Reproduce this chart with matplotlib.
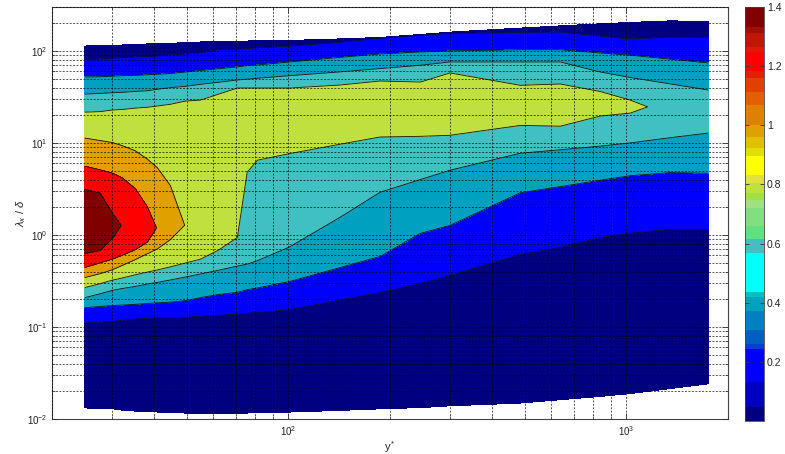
import numpy as np
import matplotlib
matplotlib.use("Agg")
import matplotlib.pyplot as plt
import matplotlib.ticker as mticker
from matplotlib.colors import ListedColormap, BoundaryNorm
from matplotlib.cm import ScalarMappable

plt.rcParams['font.family'] = ['Liberation Sans', 'DejaVu Sans']
plt.rcParams['mathtext.fontset'] = 'custom'
plt.rcParams['mathtext.rm'] = 'Liberation Sans'
plt.rcParams['mathtext.it'] = 'Liberation Sans:italic'
plt.rcParams['mathtext.bf'] = 'Liberation Sans:bold'

nan = np.nan

# wall distance of each measured profile
ystar = [25, 27.8, 30.2, 32.3, 35.3, 38.3, 41.0, 44.8, 49.6, 54.9, 62.1, 70.7,
         75.6, 81.0, 101, 142.5, 187, 246, 301, 486, 638, 838, 1028, 1350, 1748]

# resolved wavelength range of each profile
lam_bottom = [0.0132, 0.0130, 0.0129, 0.0125, 0.0122, 0.0121, 0.0119, 0.0118,
              0.0116, 0.0116, 0.0116, 0.0116, 0.0116, 0.0118, 0.0119, 0.0124,
              0.0129, 0.0133, 0.0139, 0.0149, 0.0162, 0.0176, 0.0189, 0.0214,
              0.0241]
lam_top = [113, 114, 115, 116, 118, 119, 119, 121, 123, 125, 126, 127, 128,
           129, 130, 135, 140, 151, 160, 177, 187, 197, 204, 212, 209]

# wavelength where the spectrum first reaches each level (short-wave side)
lo02 = [0.111, 0.113, 0.115, 0.118, 0.122, 0.124, 0.126, 0.127, 0.127, 0.131,
        0.134, 0.138, 0.141, 0.143, 0.154, 0.196, 0.236, 0.296, 0.362, 0.613,
        0.731, 0.939, 1.04, 1.15, 1.15]
lo04 = [0.162, 0.167, 0.171, 0.173, 0.176, 0.180, 0.183, 0.186, 0.193, 0.208,
        0.225, 0.238, 0.254, 0.265, 0.312, 0.442, 0.583, 1.04, 1.27, 2.87,
        3.35, 3.93, 4.40, 4.76, 4.68]
lo06 = [0.208, 0.230, 0.250, 0.262, 0.276, 0.293, 0.305, 0.324, 0.349, 0.376,
        0.413, 0.459, 0.482, 0.525, 0.742, 1.56, 2.91, 4.00, 5.05, 7.73,
        8.42, 9.24, 10.0, 11.4, 12.8]
lo08 = [0.268, 0.296, 0.323, 0.341, 0.369, 0.395, 0.417, 0.450, 0.495, 0.544,
        0.683, 0.939, 4.80, 6.49, 7.66, 9.69, 11.6, 11.8, 12.1, 15.5,
        15.2, 19.6, 21.1, nan, nan]
lo10 = [0.344, 0.380, 0.419, 0.467, 0.540, 0.624, 0.705, 0.889] + [nan] * 17
lo12 = [0.442, 0.498, 0.546, 0.601, 0.691, 0.837] + [nan] * 19
lo14 = [0.629, 0.678, 0.918] + [nan] * 22

# spectral peak of each profile
peak_val = [1.50, 1.48, 1.44, 1.395, 1.33, 1.26, 1.195, 1.10, 0.995, 0.95,
            0.90, 0.88, 0.87, 0.86, 0.87, 0.88, 0.90, 0.90, 0.92, 0.88,
            0.86, 0.84, 0.82, 0.77, 0.70]
peak_lam = [1.37, 1.37, 1.27, 1.27, 1.37, 1.30, 1.18, 1.37, 1.27, 2.38,
            3.93, 5.05, 15.6, 15.6, 17.7, 21.6, 22.8, 24.0, 25.8, 25.8,
            25.0, 26.4, 25.2, 23.9, 22.8]

# wavelength where the spectrum drops back below each level (long-wave side)
hi14 = [3.14, 2.84, 1.72] + [nan] * 22
hi12 = [5.59, 5.10, 4.69, 4.17, 3.18, 2.03] + [nan] * 19
hi10 = [11.3, 10.6, 10.1, 9.33, 8.20, 6.66, 5.37, 3.44] + [nan] * 17
hi08 = [21.6, 21.9, 22.8, 23.1, 23.9, 24.4, 25.2, 26.3, 28.5, 29.2,
        33.8, 39.5, 39.5, 39.5, 39.5, 42.6, 47.1, 45.9, 57.6, 42.3,
        43.7, 36.2, 29.2, nan, nan]
hi06 = [34.0, 34.5, 35.1, 35.5, 36.3, 36.9, 38.3, 39.9, 41.2, 43.3,
        45.6, 48.3, 49.3, 50.4, 53.8, 59.2, 64.3, 69.8, 75.9, 75.9,
        75.9, 59.0, 51.4, 43.8, 37.6]
hi04 = [52.1, 52.4, 53.2, 53.8, 54.3, 55.0, 55.8, 56.8, 59.0, 61.3,
        64.0, 67.2, 69.2, 70.4, 75.9, 85.2, 92.7, 97.5, 100, 103,
        103, 95.0, 89.8, 81.4, 74.0]
hi02 = [79.8, 81.9, 83.8, 84.8, 86.0, 87.1, 88.3, 90.5, 92.7, 95.0,
        103.5, 104, 106, 108, 113, 124, 138, 148, 155, 159,
        161, 145, 135, 141, 139]

edge_value = 0.1
levels = [0.2, 0.4, 0.6, 0.8, 1.0, 1.2, 1.4]
lo_sets = [lo02, lo04, lo06, lo08, lo10, lo12, lo14]
hi_sets = [hi02, hi04, hi06, hi08, hi10, hi12, hi14]

fill_colors = ['#000080', '#0000FF', '#00A0C0', '#40C0C0',
               '#C0E040', '#E0A000', '#FF0000', '#800000']

# colour bar segments
cbar_bounds = [0, 0.047, 0.132, 0.242, 0.262, 0.307, 0.372, 0.418, 0.437, 0.569,
               0.614, 0.659, 0.719, 0.747, 0.770, 0.804, 0.832, 0.896, 0.922,
               0.962, 1.0, 1.069, 1.114, 1.159, 1.182, 1.249, 1.266, 1.312,
               1.334, 1.4]
cbar_colors = ['#000080', '#0000C0', '#0000FF', '#0040D0', '#0060C0', '#0080C0',
               '#00A0C0', '#00C0C0', '#00FFFF', '#40C0C0', '#60E080', '#80E080',
               '#A0E080', '#A0E040', '#C0E040', '#E0E040', '#FFFF00', '#E0E000',
               '#E0C000', '#E0A000', '#E08000', '#E06000', '#E04000', '#E02000',
               '#FF0000', '#E01800', '#C01800', '#A01000', '#800000']
cbar_ticks = [0.2, 0.4, 0.6, 0.8, 1.0, 1.2, 1.4]
cbar_ticklabels = ['0.2', '0.4', '0.6', '0.8', '1', '1.2', '1.4']

# ---- curvilinear grid: one row per level crossing, one column per profile ----
n_col = len(ystar)
row_lam = [lam_bottom]
row_z = [[edge_value] * n_col]
for lev, arr in zip(levels, lo_sets):
    row_lam.append([peak_lam[j] if np.isnan(arr[j]) else arr[j] for j in range(n_col)])
    row_z.append([peak_val[j] if np.isnan(arr[j]) else lev for j in range(n_col)])
row_lam.append(peak_lam)
row_z.append(peak_val)
for lev, arr in zip(levels[::-1], hi_sets[::-1]):
    row_lam.append([peak_lam[j] if np.isnan(arr[j]) else arr[j] for j in range(n_col)])
    row_z.append([peak_val[j] if np.isnan(arr[j]) else lev for j in range(n_col)])
row_lam.append(lam_top)
row_z.append([edge_value] * n_col)

Y = np.array(row_lam, dtype=float)
Z = np.array(row_z, dtype=float)
X = np.tile(np.array(ystar, dtype=float), (Y.shape[0], 1))

fig = plt.figure(figsize=(7.85, 4.54), dpi=100)
W, H = 785.0, 454.0
ax = fig.add_axes([52 / W, 35 / H, 676 / W, 412 / H])
ax.set_xscale('log')
ax.set_yscale('log')

ax.contourf(X, Y, Z, levels=[-1] + levels + [3], colors=fill_colors, zorder=1)
ax.contour(X, Y, Z, levels=levels, colors='#111111', linewidths=0.6, zorder=2)

ax.set_xlim(20, 2000)
ax.set_ylim(0.01, 300)

ax.set_axisbelow(False)
ax.grid(True, which='both', color='black', linestyle=(0, (2.5, 2.0)),
        linewidth=0.55, alpha=0.85, zorder=3)
ax.xaxis.set_major_locator(mticker.LogLocator(base=10))
ax.yaxis.set_major_locator(mticker.LogLocator(base=10))
ax.xaxis.set_minor_locator(mticker.LogLocator(base=10, subs=np.arange(2, 10)))
ax.yaxis.set_minor_locator(mticker.LogLocator(base=10, subs=np.arange(2, 10), numticks=20))
ax.xaxis.set_minor_formatter(mticker.NullFormatter())
ax.yaxis.set_minor_formatter(mticker.NullFormatter())
ax.tick_params(which='both', direction='in', top=True, right=True,
               colors='#333333', labelcolor='#222222', labelsize=7)
ax.tick_params(which='major', length=4, width=0.6)
ax.tick_params(which='minor', length=2.5, width=0.5)
for s in ax.spines.values():
    s.set_color('#444444')
    s.set_linewidth(0.8)

ax.set_xlabel(r'y$^*$', fontsize=8, color='#222222', labelpad=1)
ax.set_ylabel(r'$\lambda_x$ / $\delta$', fontsize=8, color='#222222')
ax.yaxis.set_label_coords(-0.036, 0.5)

# colour bar
cax = fig.add_axes([745 / W, 33 / H, 19 / W, 414 / H])
sm = ScalarMappable(norm=BoundaryNorm(cbar_bounds, len(cbar_colors)),
                    cmap=ListedColormap(cbar_colors))
cb = fig.colorbar(sm, cax=cax, spacing='proportional', ticks=cbar_ticks)
cb.ax.set_yticklabels(cbar_ticklabels)
cb.ax.minorticks_off()
cax.tick_params(direction='in', left=True, right=True, length=3, width=0.6,
                colors='#333333', labelcolor='#222222', labelsize=7.5, pad=2)
cb.outline.set_linewidth(0.6)
cb.outline.set_edgecolor('#444444')

fig.savefig('out.png', dpi=100)
